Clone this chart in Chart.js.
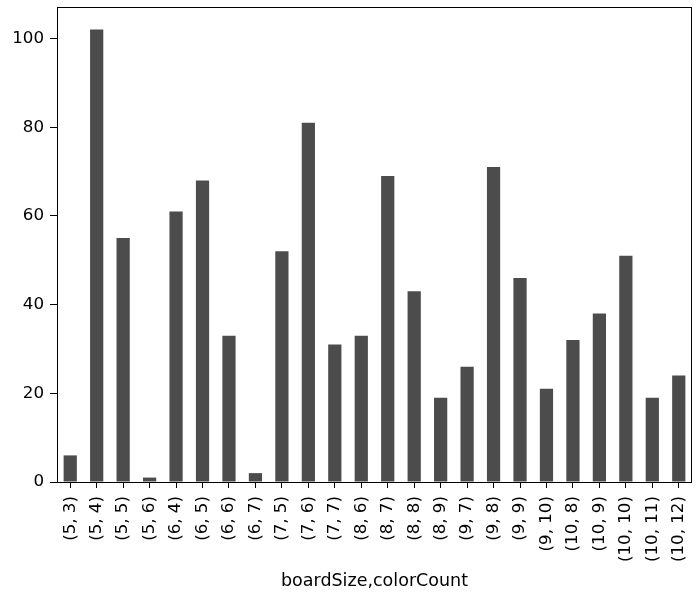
<!DOCTYPE html>
<html>
<head>
<meta charset="utf-8">
<script src="https://cdn.jsdelivr.net/npm/chart.js@4"></script>
<style>
  html, body { margin: 0; padding: 0; background: #ffffff; }
  #wrap { width: 696px; height: 600px; position: relative; }
</style>
</head>
<body>
<div id="wrap"><canvas id="c" width="696" height="600"></canvas></div>
<script>
const categories = ["(5, 3)", "(5, 4)", "(5, 5)", "(5, 6)", "(6, 4)", "(6, 5)", "(6, 6)", "(6, 7)",
  "(7, 5)", "(7, 6)", "(7, 7)", "(8, 6)", "(8, 7)", "(8, 8)", "(8, 9)", "(9, 7)", "(9, 8)", "(9, 9)",
  "(9, 10)", "(10, 8)", "(10, 9)", "(10, 10)", "(10, 11)", "(10, 12)"];
const counts = [6, 102, 55, 1, 61, 68, 33, 2, 52, 81, 31, 33, 69, 43, 19, 26, 71, 46, 21, 32, 38, 51, 19, 24];
const yTicks = [0, 20, 40, 60, 80, 100];
const xTitle = "boardSize,colorCount";

const FONT = "'DejaVu Sans', sans-serif";
const yMax = Math.max(...counts) * 1.05;

const framePlugin = {
  id: 'frame',
  afterDraw(chart) {
    const a = chart.chartArea;
    const ctx = chart.ctx;
    ctx.save();
    ctx.strokeStyle = '#000000';
    ctx.lineWidth = 1;
    ctx.strokeRect(Math.round(a.left) + 0.5, Math.round(a.top) + 0.5,
      Math.round(a.right - a.left) - 1, Math.round(a.bottom - a.top));
    ctx.restore();
  }
};

function zeroPad(scale) {
  scale.paddingTop = 0; scale.paddingBottom = 0;
  scale.paddingLeft = 0; scale.paddingRight = 0;
}

new Chart(document.getElementById('c'), {
  type: 'bar',
  data: {
    labels: categories,
    datasets: [{
      data: counts,
      backgroundColor: '#4c4c4c',
      borderWidth: 0,
      barPercentage: 0.5,
      categoryPercentage: 1.0
    }]
  },
  options: {
    responsive: false,
    animation: false,
    devicePixelRatio: 1,
    layout: { padding: { left: 0, right: 4, top: 7, bottom: 0 } },
    plugins: { legend: { display: false }, tooltip: { enabled: false } },
    scales: {
      x: {
        type: 'category',
        offset: true,
        grid: { display: true, offset: false, drawOnChartArea: false, tickLength: 6, tickColor: '#000000', color: '#000000' },
        border: { display: false },
        ticks: {
          color: '#000000',
          font: { family: FONT, size: 16.7 },
          maxRotation: 90, minRotation: 90,
          autoSkip: false,
          padding: 8
        },
        title: {
          display: true,
          text: xTitle,
          color: '#000000',
          font: { family: FONT, size: 17.5 },
          padding: { top: 0, bottom: 8 }
        },
        afterFit(scale) { scale.height = 118; zeroPad(scale); }
      },
      y: {
        min: 0,
        max: yMax,
        afterBuildTicks(scale) { scale.ticks = yTicks.map(v => ({ value: v })); },
        grid: { display: true, drawOnChartArea: false, tickLength: 7, tickColor: '#000000', color: '#000000' },
        border: { display: false },
        ticks: {
          color: '#000000',
          font: { family: FONT, size: 16.7 },
          padding: 6
        },
        afterFit(scale) { scale.width = 57; zeroPad(scale); }
      }
    }
  },
  plugins: [framePlugin]
});
</script>
</body>
</html>
